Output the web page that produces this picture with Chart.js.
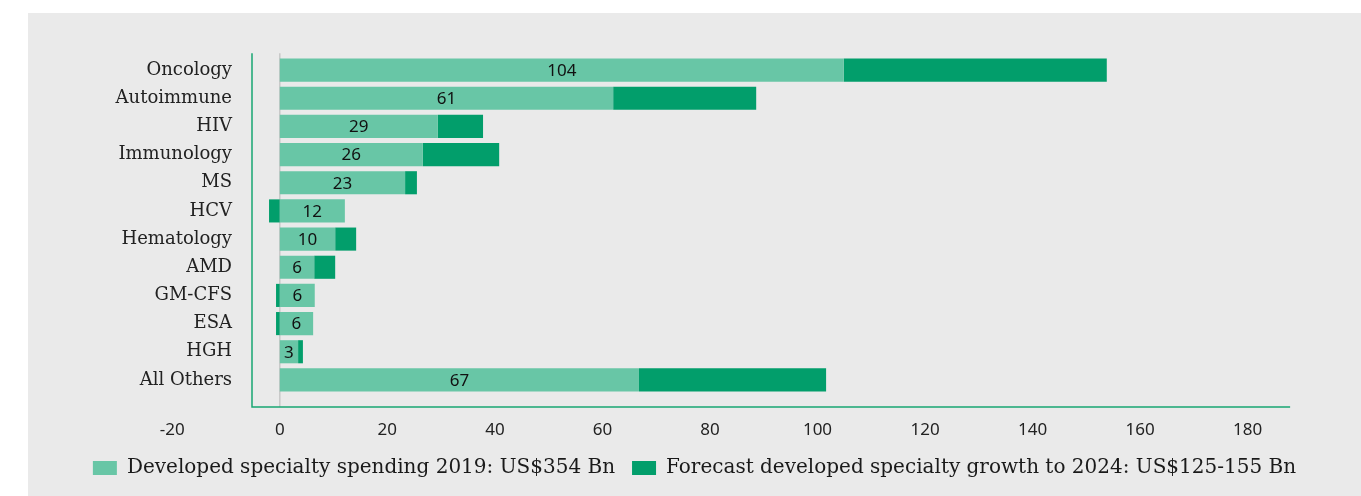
<!DOCTYPE html>
<html lang="en">
<head>
<meta charset="UTF-8">
<title>Developed specialty spending</title>
<script src="https://cdn.jsdelivr.net/npm/chart.js"></script>
<style>
    body { margin: 0; background: #fff; }
    #painel { position: absolute; left: 28px; top: 13px; width: 1333px; height: 483px; background: #eaeaea; }
</style>
</head>
<body>
<div id="painel"><canvas id="grafico"></canvas></div>
<script>
// dados (US$ Bn)
const categorias = ["Oncology", "Autoimmune", "HIV", "Immunology", "MS", "HCV", "Hematology", "AMD", "GM-CFS", "ESA", "HGH", "All Others"];
const gasto2019 = [104.9, 62.0, 29.4, 26.6, 23.3, 12.1, 10.3, 6.4, 6.5, 6.2, 3.4, 66.8];
const crescimento2024 = [48.9, 26.6, 8.4, 14.2, 2.2, -2.0, 3.9, 3.9, -0.7, -0.7, 0.9, 34.8];
const rotulos2019 = ["104", "61", "29", "26", "23", "12", "10", "6", "6", "6", "3", "67"];
const ticksX = [-20, 0, 20, 40, 60, 80, 100, 120, 140, 160, 180];
const legendas = ["Developed specialty spending 2019: US$354 Bn", "Forecast developed specialty growth to 2024: US$125-155 Bn"];

// moldura verde e linha do zero
const moldura = {
    id: 'moldura',
    beforeDatasetsDraw(chart, args, opts) {
        const { ctx, chartArea, scales } = chart;
        const topo = scales.y.getPixelForValue(opts.topo);
        const base = scales.y.getPixelForValue(opts.base);
        const zero = scales.x.getPixelForValue(0);
        const direita = scales.x.getPixelForValue(opts.direita);
        ctx.save();
        ctx.strokeStyle = opts.corZero;
        ctx.lineWidth = 1.5;
        ctx.beginPath();
        ctx.moveTo(zero, topo);
        ctx.lineTo(zero, base);
        ctx.stroke();
        ctx.strokeStyle = opts.cor;
        ctx.beginPath();
        ctx.moveTo(chartArea.left, topo);
        ctx.lineTo(chartArea.left, base);
        ctx.lineTo(direita, base);
        ctx.stroke();
        ctx.restore();
    }
};

// numeros dentro das barras de 2019
const valores = {
    id: 'valores',
    afterDatasetsDraw(chart, args, opts) {
        const ctx = chart.ctx;
        const meta = chart.getDatasetMeta(0);
        ctx.save();
        ctx.font = opts.fonte;
        ctx.fillStyle = opts.cor;
        ctx.textAlign = 'center';
        ctx.textBaseline = 'middle';
        meta.data.forEach(function (barra, i) {
            const p = barra.getProps(['x', 'y', 'base'], true);
            ctx.fillText(rotulos2019[i], (p.x + p.base) / 2, p.y + 1);
        });
        ctx.restore();
    }
};

new Chart(document.getElementById('grafico'), {
    type: 'bar',
    data: {
        labels: categorias,
        datasets: [
            { label: legendas[0], data: gasto2019, backgroundColor: '#68c6a6', barPercentage: 0.82, categoryPercentage: 1 },
            { label: legendas[1], data: crescimento2024, backgroundColor: '#029e6b', barPercentage: 0.82, categoryPercentage: 1 }
        ]
    },
    options: {
        indexAxis: 'y',
        responsive: true,
        maintainAspectRatio: false,
        animation: false,
        layout: { padding: { top: 43, right: 0, bottom: 8, left: 0 } },
        scales: {
            x: {
                stacked: true,
                min: -5.17,
                max: 201.08,
                grid: { display: false, drawTicks: false },
                border: { display: false },
                afterBuildTicks: function (s) { s.ticks = ticksX.map(v => ({ value: v })); },
                afterFit: function (s) { s.height = 47; },
                ticks: { autoSkip: false, maxRotation: 0, padding: 26, color: '#222', font: { family: 'Noto Sans', size: 17 } }
            },
            y: {
                stacked: true,
                grid: { display: false, drawTicks: false },
                border: { display: false },
                afterFit: function (s) { s.width = 224; },
                ticks: { autoSkip: false, padding: 20, color: '#222', font: { family: 'DejaVu Serif', size: 18 } }
            }
        },
        plugins: {
            legend: {
                position: 'bottom',
                labels: { boxWidth: 24, boxHeight: 14, padding: 17, color: '#1a1a1a', font: { family: 'DejaVu Serif', size: 20 } }
            },
            tooltip: { enabled: false },
            moldura: { topo: -0.6, base: 11.96, direita: 187.9, cor: '#19a673', corZero: '#c8c8c8' },
            valores: { fonte: '17px "Noto Sans"', cor: '#111' }
        }
    },
    plugins: [moldura, valores]
});
</script>
</body>
</html>
